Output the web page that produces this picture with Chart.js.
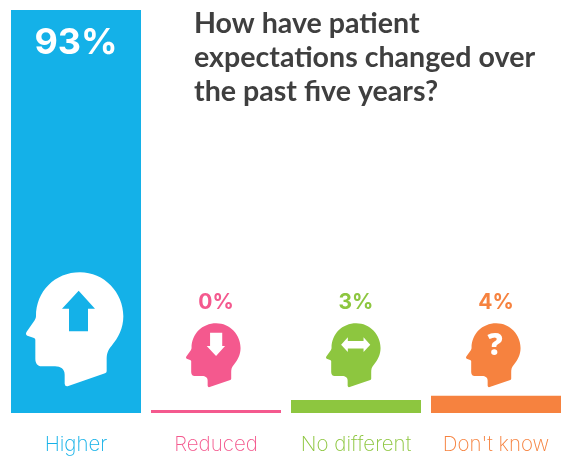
<!DOCTYPE html>
<html>
<head>
<meta charset="utf-8">
<style>
  html, body { margin: 0; padding: 0; background: #fff; }
  canvas { display: block; }
</style>
<script src="https://cdn.jsdelivr.net/npm/chart.js@4"></script>
</head>
<body>
<canvas id="expectChart" width="571" height="456"></canvas>
<script>
const categories = ['Higher', 'Reduced', 'No different', "Don't know"];
const percentages = [93, 0, 3, 4];
const colors = ['#14b1e8', '#f4598e', '#8dc63f', '#f6823f'];
const titleLines = ['How have patient', 'expectations changed over', 'the past five years?'];

// head silhouette, origin at the middle of the skull
const headPath = new Path2D(
    'M-120 -32 C-120 -107 -63 -164 12 -164 C84 -164 142 -104 142 -32 C142 3 127 33 107 56 ' +
    'C94 70 92 83 92 98 L92 133 Q92 138 87 139 L-23 177 Q-33 180 -34 170 L-34 143 ' +
    'C-34 126 -46 118 -63 118 L-103 118 C-116 118 -122 108 -122 96 L-122 38 ' +
    'Q-122 34 -128 32 L-146 26 Q-153 22 -148 14 L-124 -20 Q-120 -26 -120 -32 Z'
);
const upPath = new Path2D('M8 -109 L-42 -55 L-21 -55 L-21 13 L36 13 L36 -55 L57 -55 Z');
const downPath = new Path2D('M-21 -114 L44 -114 L44 -43 L59 -43 L11 11 L-39 -43 L-21 -43 Z');
const swapPath = new Path2D(
    'M-69 -50 L-33 -89 L-33 -70 L51 -70 L51 -89 L87 -50 L51 -11 L51 -30 L-33 -30 L-33 -11 Z'
);
const glyphs = [upPath, downPath, swapPath, null];

const headStyle = [
    { dx: 0, y: 327, scale: 1 / 3, fill: '#fff' },
    { dx: -2, y: 354, scale: 0.187, fill: colors[1] },
    { dx: -2, y: 354, scale: 0.187, fill: colors[2] },
    { dx: -2, y: 354, scale: 0.187, fill: colors[3] }
];

const overlay = {
    id: 'overlay',
    afterDatasetsDraw(chart) {
        const ctx = chart.ctx;
        const bars = chart.getDatasetMeta(0).data;
        ctx.save();
        ctx.textAlign = 'center';
        ctx.textBaseline = 'middle';

        percentages.forEach((v, i) => {
            const bx = bars[i].x;
            const big = i === 0;
            ctx.font = big ? '700 36px Inter' : '700 21px Inter';
            ctx.fillStyle = big ? '#fff' : colors[i];
            ctx.fillText(v + '%', bx, big ? 43 : 303);

            const h = headStyle[i];
            ctx.save();
            ctx.translate(bx + h.dx, h.y);
            ctx.scale(h.scale, h.scale);
            ctx.fillStyle = h.fill;
            ctx.fill(headPath);
            ctx.fillStyle = big ? colors[0] : '#fff';
            if (glyphs[i]) ctx.fill(glyphs[i]);
            ctx.restore();

            if (i === 3) {
                ctx.fillStyle = '#fff';
                ctx.font = '800 30px "Open Sans"';
                ctx.fillText('?', bx - 1, 346);
            }
        });

        ctx.textAlign = 'left';
        ctx.fillStyle = '#3f3f3f';
        ctx.font = '700 28.6px Lato';
        titleLines.forEach((line, i) => ctx.fillText(line, 194, 24 + i * 34));
        ctx.restore();
    }
};

new Chart(document.querySelector('#expectChart'), {
    type: 'bar',
    data: {
        labels: categories,
        datasets: [{
            data: percentages,
            backgroundColor: colors,
            barPercentage: 130 / 140,
            categoryPercentage: 1,
            minBarLength: 3
        }]
    },
    options: {
        responsive: false,
        animation: false,
        layout: { padding: { left: 6, right: 5, top: 10, bottom: 0 } },
        plugins: {
            legend: { display: false },
            tooltip: { enabled: false }
        },
        scales: {
            x: {
                grid: { display: false },
                border: { display: false },
                afterFit(scale) { scale.height = 43; },
                ticks: {
                    color: colors,
                    padding: 12,
                    maxRotation: 0,
                    autoSkip: false,
                    font: { family: 'Inter', size: 20.5, weight: 200 }
                }
            },
            y: {
                display: false,
                min: 0,
                max: 93
            }
        }
    },
    plugins: [overlay]
});
</script>
</body>
</html>
